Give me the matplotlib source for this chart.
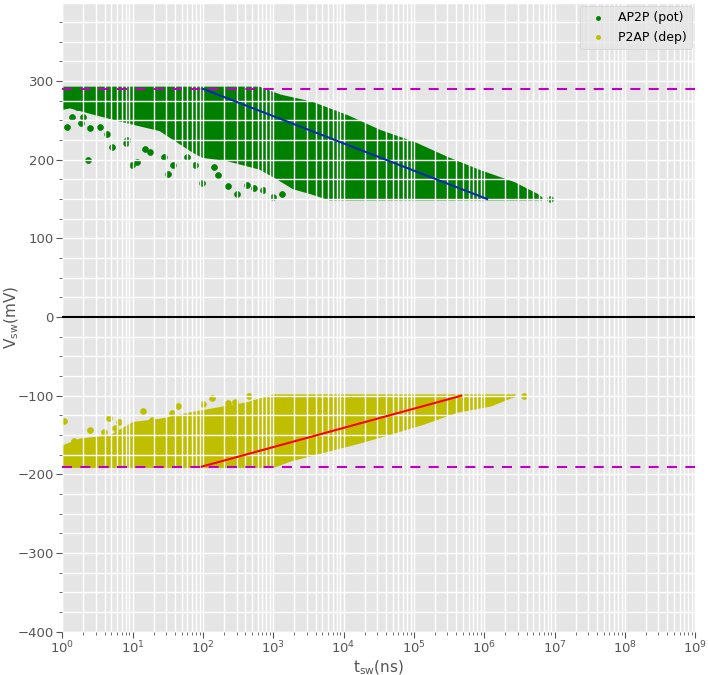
import numpy as np
import matplotlib
matplotlib.use('Agg')
import matplotlib.pyplot as plt
from matplotlib.ticker import MultipleLocator, LogLocator

plt.style.use('ggplot')

# AP2P (pot): envelope of the dense cloud, log10(t_sw / ns) and V_sw (mV)
pot_top_logt = [0.0, 2.8, 3.1, 3.55, 4.05, 4.52, 5.0, 5.47, 5.94, 6.42, 6.75, 6.82]
pot_top_v = [291, 291, 281, 272, 255, 236, 221, 202, 185, 170, 155, 150]
pot_bot_logt = [0.0, 0.11, 0.44, 0.92, 1.39, 1.87, 2.0, 2.34, 2.81, 3.05, 3.29, 3.53, 3.8, 6.82]
pot_bot_v = [265, 267, 259, 248, 238, 210, 204, 200, 189, 177, 164, 158, 150, 150]
# AP2P scattered points below the cloud
pot_out_logt = [0.07, 0.36, 0.70, 0.90, 0.99, 1.06, 1.18, 1.51, 1.58, 1.99, 2.22, 2.36, 2.48,
                2.63, 2.72, 2.86, 3.00, 3.12, 2.15, 1.89, 1.77, 1.44, 1.25, 0.92, 0.64, 0.40,
                0.26, 0.14, 0.30, 0.54, 0.21, 6.93]
pot_out_v = [241, 200, 216, 221, 193, 197, 213, 182, 193, 170, 180, 166, 156,
             168, 164, 161, 153, 157, 191, 193, 204, 204, 210, 225, 233, 240,
             247, 254, 254, 242, 267, 150]

# P2AP (dep): envelope of the dense cloud
dep_bot_logt = [0.0, 3.0, 3.24, 3.71, 4.19, 4.66, 5.14, 5.61, 6.09, 6.37, 6.44]
dep_bot_v = [-190, -190, -182, -171, -160, -148, -135, -120, -112, -102, -100]
dep_top_logt = [0.0, 0.26, 0.68, 1.01, 1.39, 1.87, 2.25, 2.63, 3.0, 6.44]
dep_top_v = [-165, -156, -152, -135, -131, -122, -116, -110, -100, -100]
# P2AP scattered points above the cloud
dep_out_logt = [0.03, 0.39, 0.59, 0.66, 0.80, 0.75, 1.15, 1.27, 1.64, 1.56, 2.13, 2.00,
                2.36, 2.46, 2.65, 0.16, 0.08, 6.57]
dep_out_v = [-132, -143, -146, -128, -133, -141, -120, -131, -113, -122, -103, -111,
             -109, -108, -100, -158, -171, -100]

# thresholds and fitted lines
v_pot_max = 290
v_dep_max = -190
pot_fit_t = [100, 1.1e6]
pot_fit_v = [290, 150]
dep_fit_t = [97, 4.7e5]
dep_fit_v = [-190, -100]

fig = plt.figure(figsize=(7.08, 6.75), dpi=100)
ax = fig.add_axes([0.088, 0.064, 0.894, 0.932])
ax.set_axisbelow(False)

pot_t = 10 ** np.array(pot_top_logt + pot_bot_logt[::-1])
pot_v = pot_top_v + pot_bot_v[::-1]
ax.fill(pot_t, pot_v, color='g', ec='g', lw=2, zorder=1)
ax.scatter(10 ** np.array(pot_out_logt), pot_out_v, s=18, color='g', zorder=1, label='AP2P (pot)')

dep_t = 10 ** np.array(dep_bot_logt + dep_top_logt[::-1])
dep_v = dep_bot_v + dep_top_v[::-1]
ax.fill(dep_t, dep_v, color='y', ec='y', lw=2, zorder=1)
ax.scatter(10 ** np.array(dep_out_logt), dep_out_v, s=18, color='y', zorder=1, label='P2AP (dep)')

ax.axhline(v_pot_max, color='m', lw=1.5, ls='--', dashes=(4.8, 4), zorder=3)
ax.axhline(v_dep_max, color='m', lw=1.5, ls='--', dashes=(4.8, 4), zorder=3)
ax.axhline(0, color='k', lw=1.5, zorder=3)
ax.plot(pot_fit_t, pot_fit_v, color='#0a2ab0', lw=1.5, zorder=3)
ax.plot(dep_fit_t, dep_fit_v, color='r', lw=1.5, zorder=3)

ax.set_xscale('log')
ax.set_xlim(1, 1e9)
ax.set_ylim(-400, 399.5)
ax.xaxis.set_major_locator(LogLocator(base=10, numticks=20))
ax.xaxis.set_minor_locator(LogLocator(base=10, subs=np.arange(2, 10), numticks=200))
ax.yaxis.set_major_locator(MultipleLocator(100))
ax.yaxis.set_minor_locator(MultipleLocator(25))
ax.grid(True, which='both', color='white', lw=1.0)
ax.tick_params(which='major', labelsize=9.5, pad=2, length=4)
ax.tick_params(which='minor', length=2)

ax.set_xlabel(r'$\mathrm{t_{sw}}$(ns)', fontsize=11, labelpad=1)
ax.set_ylabel(r'$\mathrm{V_{sw}}$(mV)', fontsize=11)
ax.yaxis.set_label_coords(-0.066, 0.5)
ax.legend(loc='upper right', fontsize=9, markerscale=0.7, borderpad=0.4,
          handletextpad=0.6, borderaxespad=0.3)

fig.savefig('out.png', dpi=100)
